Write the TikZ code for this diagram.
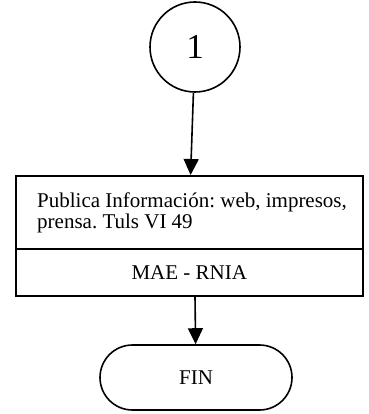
\documentclass[tikz,border=0pt]{standalone}
\usepackage{fontspec}
\setmainfont{Liberation Serif}
\usetikzlibrary{arrows.meta,shapes.misc}
\frenchspacing
\begin{document}
\begin{tikzpicture}[x=1pt,y=-1pt,
  outline/.style={draw=black,line width=1.6pt},
  flow/.style={line width=1.6pt,-{Triangle[length=16pt,width=15pt]}},
  txt/.style={font=\fontsize{21}{21.5}\selectfont}]
\useasboundingbox (0,0) rectangle (368,414);
% connector circle
\node[outline,circle,minimum size=90pt,inner sep=0pt,font=\fontsize{35}{38}\selectfont] (start) at (195,47) {1};
% process box: description and responsible
\node[outline,rectangle,minimum width=347pt,minimum height=73pt,anchor=north west,inner sep=0pt] (task) at (15,175) {};
\node[outline,rectangle,minimum width=347pt,minimum height=47pt,anchor=north west,inner sep=0pt] (role) at (15,248) {};
\node[txt,anchor=west,align=left,inner sep=0pt] (desc) at (37,213) {Publica Información: web, impresos,\\prensa. Tuls VI 49};
\node[txt,inner sep=0pt] (who) at (role.center) {MAE - RNIA};
% terminator
\node[outline,rounded rectangle,minimum width=192pt,minimum height=65pt,inner sep=0pt,txt] (fin) at (196,377.5) {FIN};
\draw[flow] (start) -- (task);
\draw[flow] (role.south -| start) -- (fin);
\end{tikzpicture}
\end{document}
